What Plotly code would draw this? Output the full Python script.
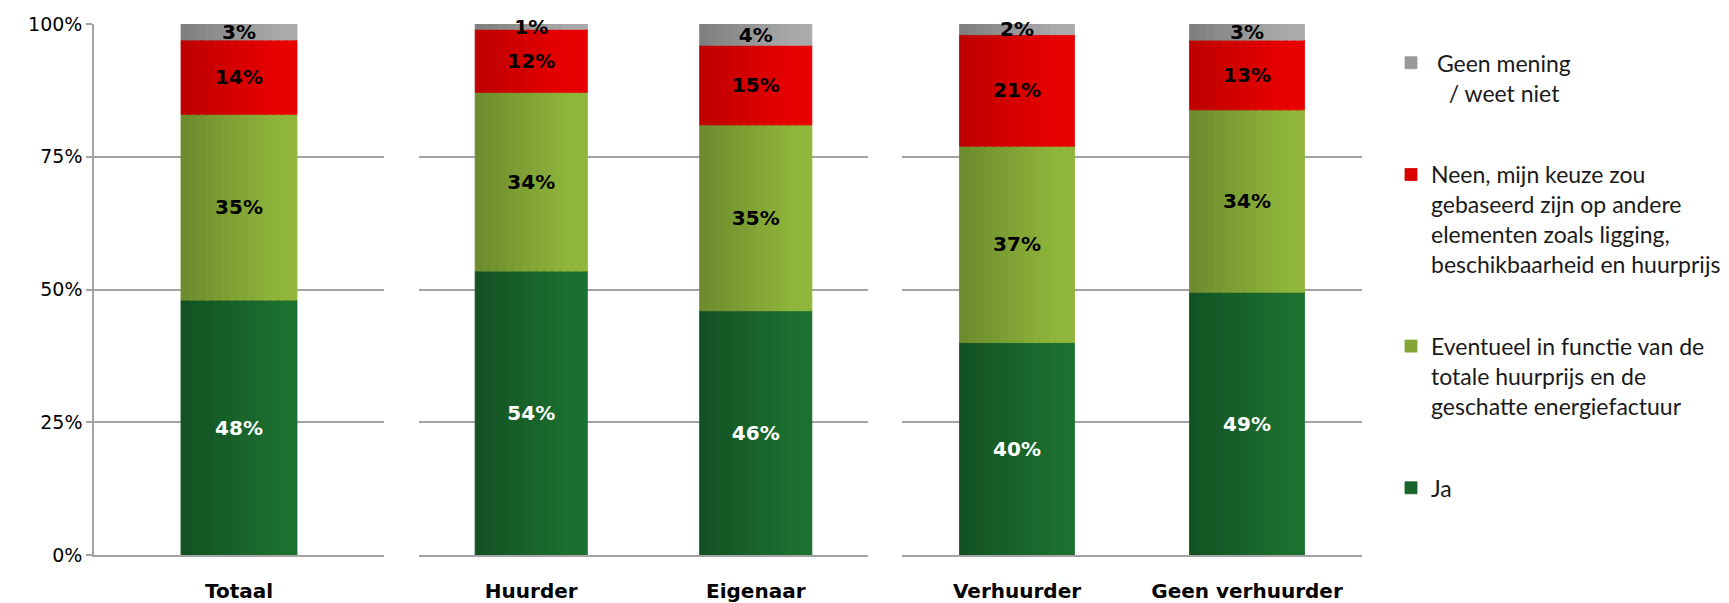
import plotly.graph_objects as go
import numpy as np

# categorieën per paneel
panels = [["Totaal"], ["Huurder", "Eigenaar"], ["Verhuurder", "Geen verhuurder"]]

# percentages per antwoord (volgorde: Totaal, Huurder, Eigenaar, Verhuurder, Geen verhuurder)
ja = [48, 54, 46, 40, 49]
eventueel = [35, 34, 35, 37, 34]
neen = [14, 12, 15, 21, 13]
geen_mening = [3, 1, 4, 2, 3]

y_ticks = [0, 25, 50, 75, 100]

# naam, waarden, kleur links, kleur rechts (verloop), tekstkleur, volgorde in legende
series = [
    ("Ja", ja, (19, 82, 35), (28, 112, 48), "white", 4),
    ("Eventueel in functie van de<br>totale huurprijs en de<br>geschatte energiefactuur",
     eventueel, (110, 140, 46), (143, 181, 58), "black", 3),
    ("Neen, mijn keuze zou<br>gebaseerd zijn op andere<br>elementen zoals ligging,<br>beschikbaarheid en huurprijs",
     neen, (191, 0, 0), (232, 0, 0), "black", 2),
    ("\u00a0Geen mening<br>\u00a0\u00a0\u00a0/ weet niet", geen_mening, (127, 127, 127), (170, 170, 170), "black", 1),
]

totals = np.array(ja) + np.array(eventueel) + np.array(neen) + np.array(geen_mening)
shares = [np.array(s[1]) * 100 / totals for s in series]
bases = np.cumsum([np.zeros(len(ja))] + shares[:-1], axis=0)

W, H = 1729, 603
OFF = 8  # standaard body-marge van de pagina
L, T, B = 94 - OFF, 24 - OFF, 603 - 555 + OFF
pw = W - L
px_domains = [(94, 384), (419, 868), (902, 1362)]
domains = [((a - OFF - L) / pw, (b - OFF - L) / pw) for a, b in px_domains]
bar_widths = [0.40, 0.5, 0.5]
N = 14  # stroken per balk voor het kleurverloop


def mix(c1, c2, t):
    return "rgb(%d,%d,%d)" % tuple(round(a + (b - a) * t) for a, b in zip(c1, c2))


fig = go.Figure()
start = 0
for p, cats in enumerate(panels):
    idx = list(range(start, start + len(cats)))
    start += len(cats)
    xa = "x" if p == 0 else f"x{p+1}"
    ya = "y" if p == 0 else f"y{p+1}"
    w = bar_widths[p]
    s = w / N
    for k, (name, vals, c1, c2, tcol, rank) in enumerate(series):
        yv = [shares[k][i] for i in idx]
        bv = [bases[k][i] for i in idx]
        for j in range(N):
            col = mix(c1, c2, min(1, j / (N * 0.8)))
            fig.add_trace(go.Bar(
                x=cats, y=yv, base=bv,
                name=name, legendgroup=name, legendrank=rank,
                showlegend=(p == 0 and j == N // 2),
                marker=dict(color=col, line=dict(width=0.8, color=col)),
                width=s * (1.25 if j < N - 1 else 1), offset=-w / 2 + j * s,
                hoverinfo="skip",
                xaxis=xa, yaxis=ya,
            ))
        # labels
        fig.add_trace(go.Bar(
            x=cats, y=yv, base=bv, width=w,
            marker=dict(color="rgba(0,0,0,0)", line=dict(width=0)),
            showlegend=False,
            text=[f"<b>{vals[i]}%</b>" for i in idx],
            textposition="inside", insidetextanchor="middle",
            textfont=dict(family="DejaVu Sans", size=20, color=tcol),
            cliponaxis=False,
            xaxis=xa, yaxis=ya,
        ))

grid = "#a3a3a3"
layout = dict(
    width=W, height=H,
    margin=dict(l=L, r=0, t=T, b=B),
    barmode="overlay",
    plot_bgcolor="white", paper_bgcolor="white",
    showlegend=True,
    uniformtext=dict(minsize=20, mode="show"),
    legend=dict(
        x=(1391 - OFF - L) / pw, y=0.9675, xanchor="left", yanchor="top",
        traceorder="grouped", tracegroupgap=49, valign="top",
        font=dict(family="Lato", size=23, color="#1a1a1a"),
    ),
)
for p in range(3):
    sx = "" if p == 0 else str(p + 1)
    layout[f"xaxis{sx}"] = dict(
        domain=list(domains[p]), anchor=f"y{sx}",
        showgrid=False, showline=True, linecolor=grid, linewidth=1.5,
        ticks="", ticklabelstandoff=17,
        tickfont=dict(family="DejaVu Sans", size=20, color="black", weight="bold"),
    )
    layout[f"yaxis{sx}"] = dict(
        anchor=f"x{sx}", range=[0, 100],
        tickvals=y_ticks, ticktext=[f"{v}%" for v in y_ticks],
        showgrid=True, gridcolor=grid, gridwidth=1.5,
        zeroline=False,
        showline=(p == 0), linecolor=grid, linewidth=1.5,
        ticks="outside" if p == 0 else "", ticklen=6, tickcolor=grid, tickwidth=1.5,
        showticklabels=(p == 0),
        tickfont=dict(family="DejaVu Sans", size=19, color="black"),
    )
    if p > 0:
        layout[f"yaxis{sx}"]["matches"] = "y"
fig.update_layout(**layout)

fig.write_html("out.html")
